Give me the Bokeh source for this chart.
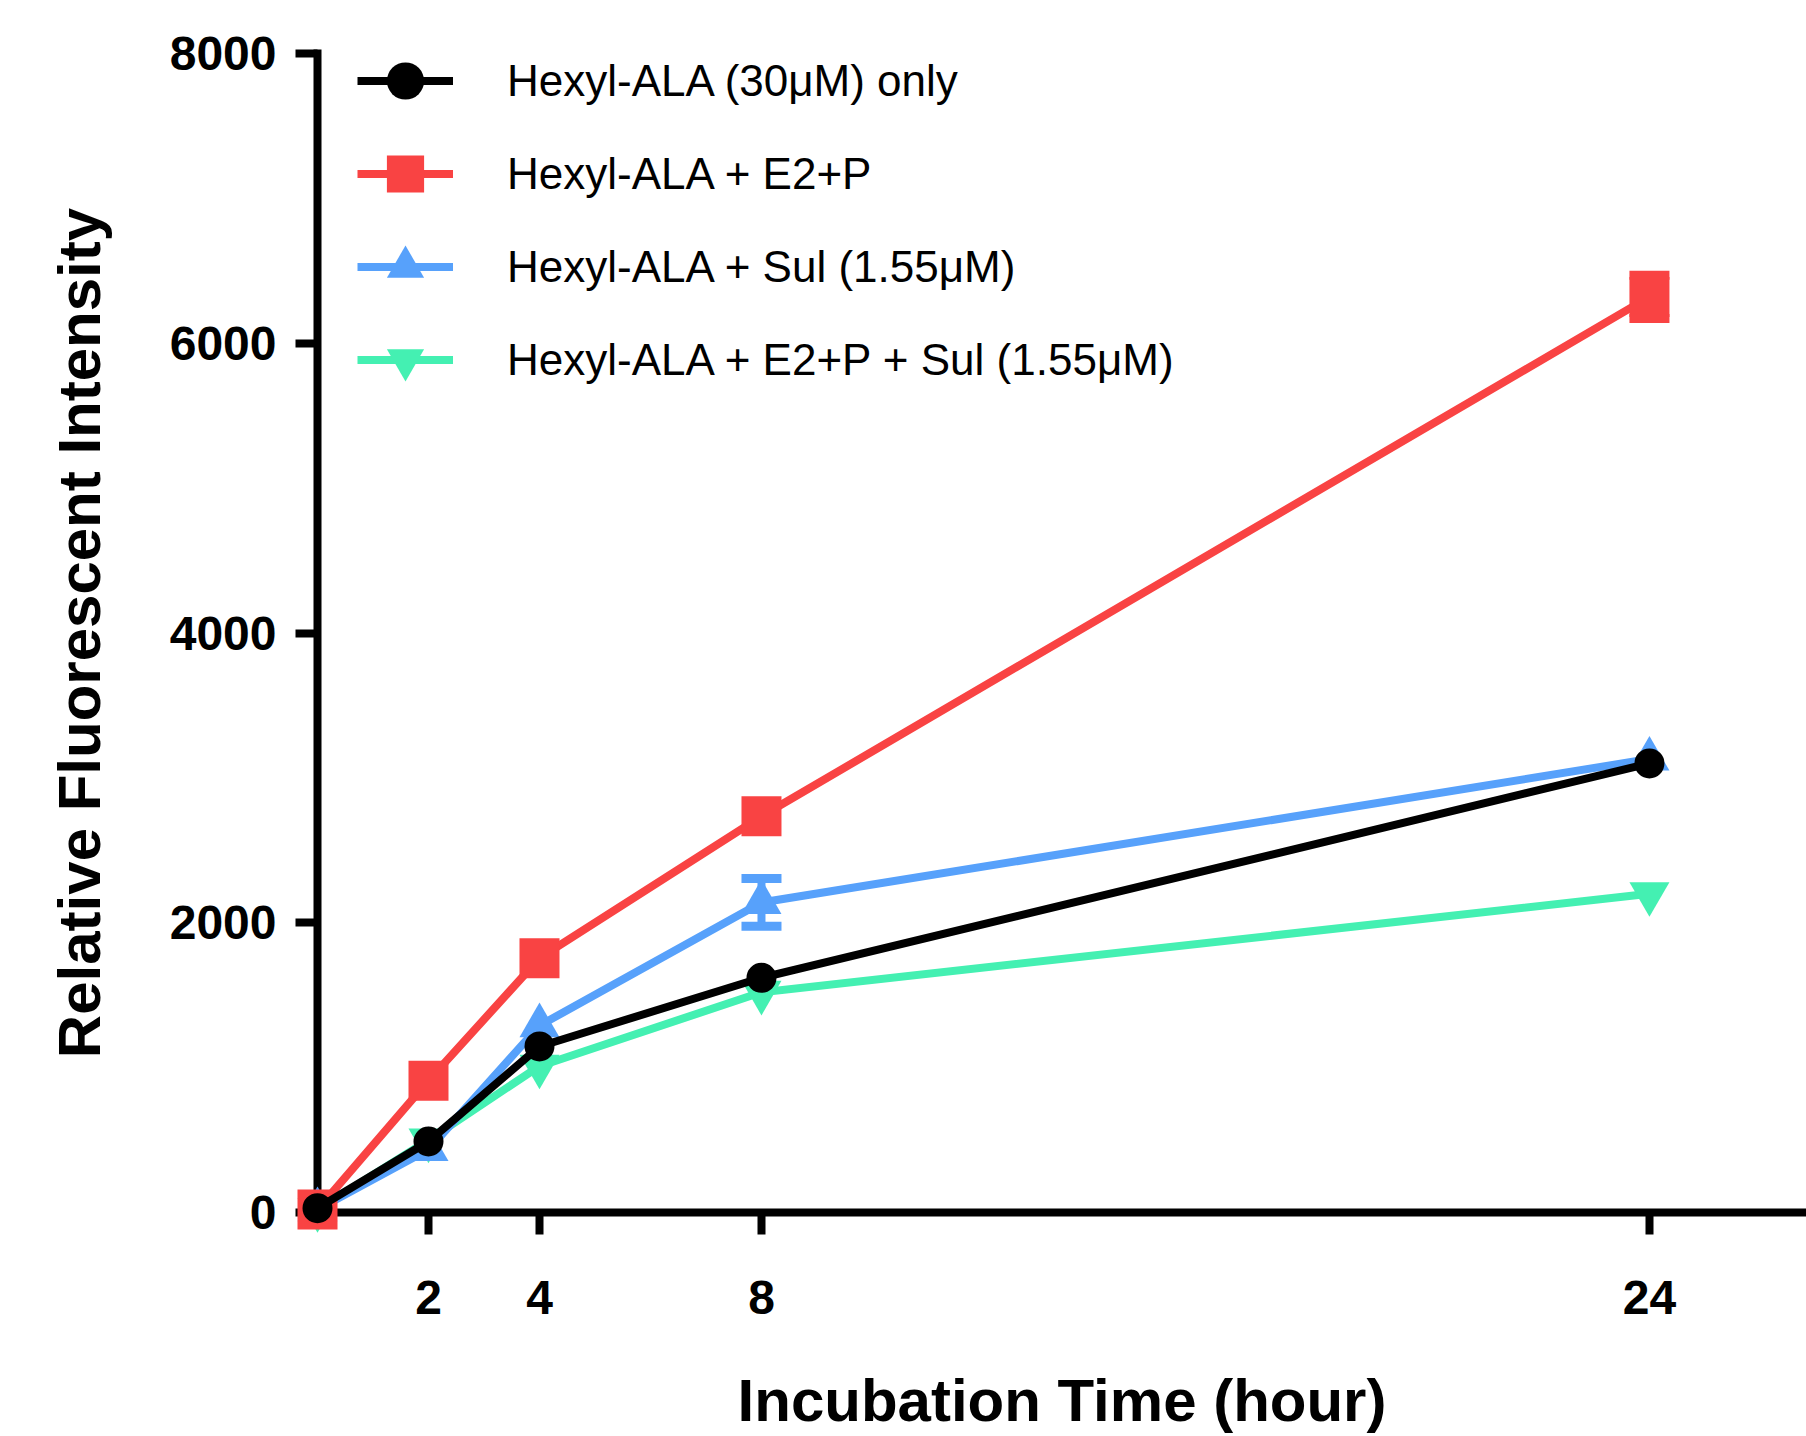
from bokeh.plotting import figure
from bokeh.models import Range1d, FixedTicker, Legend, LegendItem, Whisker, ColumnDataSource, TeeHead
from bokeh.embed import file_html
from bokeh.resources import INLINE

hours = [0, 2, 4, 8, 24]
x_ticks = [2, 4, 8, 24]
y_ticks = [0, 2000, 4000, 6000, 8000]

series_names = [
    "Hexyl-ALA (30μM) only",
    "Hexyl-ALA + E2+P",
    "Hexyl-ALA + Sul (1.55μM)",
    "Hexyl-ALA + E2+P + Sul (1.55μM)",
]
only_mean = [30, 490, 1146, 1620, 3100]
only_sem = [20, 30, 40, 40, 40]
e2p_mean = [20, 910, 1755, 2735, 6320]
e2p_sem = [20, 40, 40, 50, 150]
sul_mean = [20, 435, 1290, 2140, 3130]
sul_sem = [20, 30, 40, 165, 40]
combo_mean = [20, 500, 1010, 1520, 2200]
combo_sem = [20, 30, 30, 40, 40]

colors = ["#000000", "#F94343", "#57A1FB", "#44F0B2"]
markers = ["circle", "square", "triangle", "inverted_triangle"]
msizes = [30, 40, 40, 40]
means = [only_mean, e2p_mean, sul_mean, combo_mean]
sems = [only_sem, e2p_sem, sul_sem, combo_sem]

# error bars shorter than the symbol are hidden behind it (as in the original)
HIDE_BELOW = 100

FONT = "Liberation Sans"

p = figure(width=1806, height=1436, output_backend="svg", toolbar_location=None,
           x_range=Range1d(0, 26.83), y_range=Range1d(0, 8000),
           min_border_left=317, min_border_right=0, min_border_top=53, min_border_bottom=218)
p.outline_line_color = None
p.grid.visible = False
p.background_fill_color = "white"
p.border_fill_color = "white"

for ax in (p.xaxis[0], p.yaxis[0]):
    ax.axis_line_width = 8
    ax.axis_line_cap = "square"
    ax.major_tick_line_width = 8
    ax.major_tick_out = 22
    ax.major_tick_in = 0
    ax.minor_tick_line_color = None
    ax.major_label_text_font = FONT
    ax.major_label_text_font_style = "bold"
    ax.major_label_text_font_size = "48px"
    ax.major_label_text_color = "black"
    ax.axis_label_text_font = FONT
    ax.axis_label_text_font_style = "bold"
    ax.axis_label_text_font_size = "60px"
    ax.axis_label_text_color = "black"

p.xaxis.ticker = FixedTicker(ticks=x_ticks)
p.yaxis.ticker = FixedTicker(ticks=y_ticks)
p.xaxis.major_label_standoff = 46
p.yaxis.major_label_standoff = 19
p.xaxis.axis_label = "Incubation Time (hour)"
p.yaxis.axis_label = "Relative Fluorescent Intensity"
p.xaxis.axis_label_standoff = 50
p.yaxis.axis_label_standoff = 54

items = [None] * 4
for i in [3, 2, 1, 0]:
    keep = [k for k, s in enumerate(sems[i]) if s > HIDE_BELOW]
    if keep:
        esrc = ColumnDataSource(dict(
            x=[hours[k] for k in keep],
            lower=[means[i][k] - sems[i][k] for k in keep],
            upper=[means[i][k] + sems[i][k] for k in keep]))
        w = Whisker(base="x", lower="lower", upper="upper", source=esrc,
                    line_color=colors[i], line_width=8,
                    upper_head=TeeHead(size=40, line_color=colors[i], line_width=9),
                    lower_head=TeeHead(size=40, line_color=colors[i], line_width=9))
        p.add_layout(w)
    src = ColumnDataSource(dict(x=hours, y=means[i]))
    lr = p.line("x", "y", source=src, line_color=colors[i], line_width=8, level="overlay")
    sr = p.scatter("x", "y", source=src, marker=markers[i], size=msizes[i],
                   fill_color=colors[i], line_color=colors[i], line_width=0, level="overlay")
    items[i] = LegendItem(label=series_names[i], renderers=[lr, sr])

legend = Legend(items=items, location=(40, 806), orientation="vertical",
                glyph_width=96, glyph_height=93, label_standoff=54, spacing=0,
                padding=0, margin=0, border_line_color=None, background_fill_alpha=0,
                label_text_font=FONT, label_text_font_size="44px", label_text_color="black")
p.add_layout(legend, "center")

open("out.html", "w").write(file_html(p, INLINE))
